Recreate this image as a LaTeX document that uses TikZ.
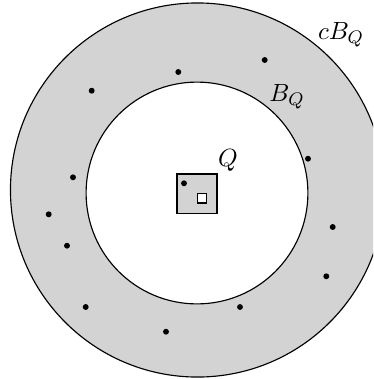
\documentclass[tikz,border=0pt]{standalone}
\definecolor{ringgray}{RGB}{211,211,211}
\tikzset{
  ptdot/.style={circle,fill=black,inner sep=0pt,minimum size=2.6pt},
  lab/.style={inner sep=0pt,font=\fontsize{11}{13}\selectfont}
}
\begin{document}
\begin{tikzpicture}[x=0.44pt,y=-0.44pt]
\clip (0,0) rectangle (373,379);
\fill[white] (0,0) rectangle (373,379);
\coordinate (c) at (197,193);
\coordinate (co) at (197.5,190);
\draw[fill=ringgray,line width=0.5pt] (co) circle[radius=82.3pt];
\draw[fill=white,line width=0.5pt] (c) circle[radius=48.8pt];
\node[draw,fill=ringgray,line width=0.7pt,minimum size=17.6pt,inner sep=0pt] (Q) at (197,193.7) {};
\node[draw,fill=white,line width=0.6pt,minimum size=4.2pt,inner sep=0pt] (q) at (202,198.3) {};
\foreach \x/\y in {264.7/60,178.3/72,91.7/90.7,308/158.7,73/177.3,184/183.3,48.7/214.3,67/245.7,332.7/227,326.3/276.3,85.7/307,240/307,166/331.7}
  \node[ptdot] at (\x,\y) {};
\node[lab] (lcB) at (341,35) {$cB_Q$};
\node[lab] (lB) at (287,97) {$B_Q$};
\node[lab] (lQ) at (228,160) {$Q$};
\end{tikzpicture}
\end{document}
